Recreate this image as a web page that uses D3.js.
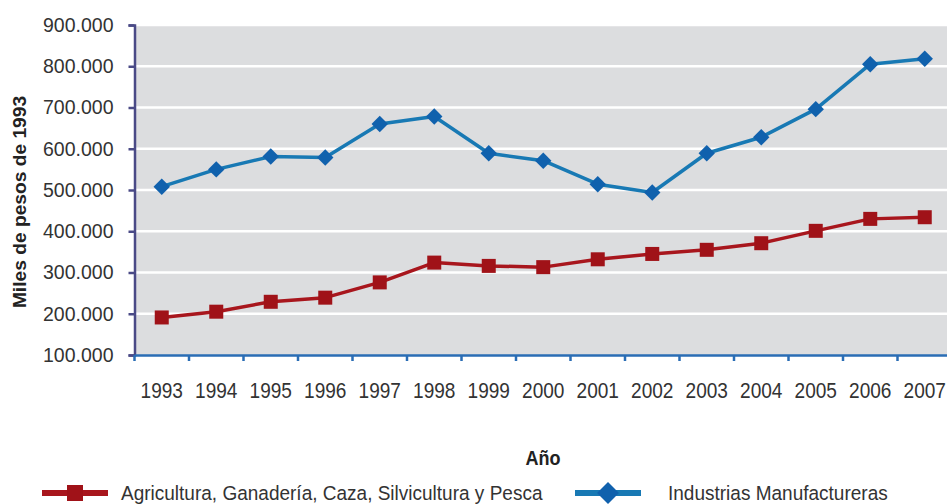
<!DOCTYPE html>
<html>
<head>
<meta charset="utf-8">
<script src="https://cdn.jsdelivr.net/npm/d3@7"></script>
<style>
  html, body { margin: 0; padding: 0; background: #ffffff; }
  svg { display: block; }
</style>
</head>
<body>
<svg id="chart" width="947" height="504"></svg>
<script>
const years = ["1993","1994","1995","1996","1997","1998","1999","2000","2001","2002","2003","2004","2005","2006","2007"];
const agricultura = [191000, 205000, 229000, 239000, 276000, 324000, 316000, 313000, 332000, 345000, 355000, 371000, 401000, 430000, 434000];
const industrias = [508000, 550000, 581000, 579000, 660000, 678000, 589000, 571000, 514000, 494000, 589000, 628000, 696000, 805000, 818000];
const yTicks = [100000, 200000, 300000, 400000, 500000, 600000, 700000, 800000, 900000];
const seriesNames = ["Agricultura, Ganadería, Caza, Silvicultura y Pesca", "Industrias Manufactureras"];
const yTitle = "Miles de pesos de 1993";
const xTitle = "Año";

const svg = d3.select("#chart");
const font = "'Liberation Sans', Arial, Helvetica, sans-serif";

const plot = {left: 134.5, right: 952, top: 25, bottom: 355};

const x = d3.scaleBand().domain(years).range([plot.left, plot.right]).padding(0);
const y = d3.scaleLinear().domain([100000, 900000]).range([plot.bottom, plot.top]);

// background
svg.append("rect")
  .attr("x", plot.left).attr("y", plot.top)
  .attr("width", 947 - plot.left).attr("height", plot.bottom - plot.top)
  .attr("fill", "#dcdddf");

// gridlines
svg.append("g").selectAll("line").data(yTicks.slice(1)).join("line")
  .attr("x1", plot.left).attr("x2", 947)
  .attr("y1", d => y(d)).attr("y2", d => y(d))
  .attr("stroke", "#ffffff").attr("stroke-width", 2.5);

// y axis
const fmt = d => d3.format(",")(d).replace(/,/g, ".");
const yAxis = svg.append("g")
  .attr("transform", `translate(${plot.left},0)`)
  .call(d3.axisLeft(y).tickValues(yTicks).tickFormat(fmt).tickSize(6).tickPadding(15));
yAxis.select(".domain").attr("stroke", "#4a4a86").attr("stroke-width", 2.5);
yAxis.selectAll(".tick line").attr("stroke", "#4a4a86").attr("stroke-width", 2.5);
yAxis.selectAll("text").attr("font-family", font).attr("font-size", 19.5).attr("fill", "#333333");

// x axis
const xAxis = svg.append("g")
  .attr("transform", `translate(0,${plot.bottom})`)
  .call(d3.axisBottom(x).tickSize(0));
xAxis.select(".domain").attr("stroke", "#2a6db5").attr("stroke-width", 2.5);
xAxis.selectAll("text")
  .attr("font-family", font).attr("font-size", 22.3).attr("fill", "#333333")
  .attr("y", 43).attr("dy", 0)
  .attr("transform", "scale(0.855,1)");
// tick marks at band boundaries
svg.append("g").selectAll("line").data(years).join("line")
  .attr("x1", d => x(d)).attr("x2", d => x(d))
  .attr("y1", plot.bottom).attr("y2", plot.bottom + 6)
  .attr("stroke", "#2a6db5").attr("stroke-width", 2.5);

// titles
svg.append("text")
  .attr("transform", `translate(26,${(plot.top + plot.bottom) / 2 + 12}) rotate(-90)`)
  .attr("text-anchor", "middle")
  .attr("font-family", font).attr("font-weight", "bold").attr("font-size", 19.2)
  .attr("fill", "#222222").text(yTitle);
svg.append("text")
  .attr("transform", "translate(543,465) scale(0.88,1)")
  .attr("text-anchor", "middle")
  .attr("font-family", font).attr("font-weight", "bold").attr("font-size", 20.5)
  .attr("fill", "#222222").text(xTitle);

const cx = d => x(d) + x.bandwidth() / 2;
const line = d3.line().x((d, i) => cx(years[i])).y(d => y(d));

// industrias
svg.append("path").datum(industrias)
  .attr("d", line).attr("fill", "none")
  .attr("stroke", "#1879b4").attr("stroke-width", 3.5).attr("stroke-linejoin", "round");
svg.append("g").selectAll("path").data(industrias).join("path")
  .attr("d", d3.symbol().type(d3.symbolSquare).size(135))
  .attr("transform", (d, i) => `translate(${cx(years[i])},${y(d)}) rotate(45)`)
  .attr("fill", "#1061ad");

// agricultura
svg.append("path").datum(agricultura)
  .attr("d", line).attr("fill", "none")
  .attr("stroke", "#a8161d").attr("stroke-width", 3.5).attr("stroke-linejoin", "round");
svg.append("g").selectAll("rect").data(agricultura).join("rect")
  .attr("x", (d, i) => cx(years[i]) - 7).attr("y", d => y(d) - 7)
  .attr("width", 14).attr("height", 14)
  .attr("fill", "#a01218");

// legend
const leg = svg.append("g");
const legY = 493;
leg.append("line").attr("x1", 42).attr("x2", 108).attr("y1", legY).attr("y2", legY)
  .attr("stroke", "#a8161d").attr("stroke-width", 6);
leg.append("rect").attr("x", 75 - 8).attr("y", legY - 8).attr("width", 16).attr("height", 16).attr("fill", "#a01218");
leg.append("text").attr("transform", `translate(121,500) scale(0.975,1)`)
  .attr("font-family", font).attr("font-size", 19.5).attr("fill", "#333333").text(seriesNames[0]);

leg.append("line").attr("x1", 575).attr("x2", 641).attr("y1", legY).attr("y2", legY)
  .attr("stroke", "#1879b4").attr("stroke-width", 6);
leg.append("path").attr("d", d3.symbol().type(d3.symbolSquare).size(240))
  .attr("transform", `translate(608,${legY}) rotate(45)`).attr("fill", "#1061ad");
leg.append("text").attr("transform", `translate(668,500) scale(0.975,1)`)
  .attr("font-family", font).attr("font-size", 19.5).attr("fill", "#333333").text(seriesNames[1]);
</script>
</body>
</html>
